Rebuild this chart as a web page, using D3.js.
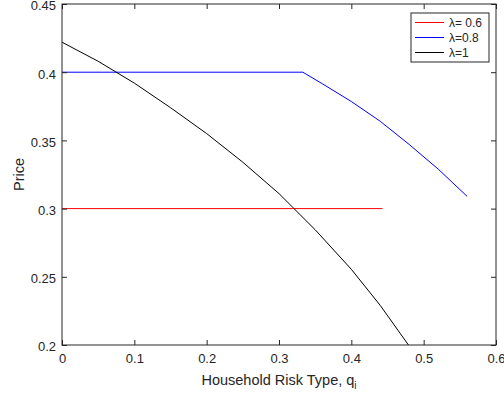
<!DOCTYPE html>
<html>
<head>
<meta charset="utf-8">
<script src="https://cdn.jsdelivr.net/npm/d3@7"></script>
<style>
  body { margin: 0; background: #fff; }
  text { font-family: "Liberation Sans", Arial, sans-serif; fill: #262626; }
</style>
</head>
<body>
<div id="chart"></div>
<script>
// series values
const redX = [0, 0.443];
const redY = [0.3, 0.3];

const blueX = [0, 0.333, 0.36, 0.4, 0.44, 0.48, 0.52, 0.56];
const blueY = [0.4, 0.4, 0.3915, 0.3785, 0.364, 0.347, 0.329, 0.309];

const blackX = [0, 0.05, 0.1, 0.15, 0.2, 0.25, 0.3, 0.35, 0.4, 0.44, 0.479];
const blackY = [0.422, 0.408, 0.392, 0.374, 0.355, 0.334, 0.311, 0.2845, 0.2555, 0.229, 0.2];

const labels = ['\u03bb= 0.6', '\u03bb=0.8', '\u03bb=1'];
const colors = ['#ff0000', '#0000ff', '#000000'];

const xTicks = [0, 0.1, 0.2, 0.3, 0.4, 0.5, 0.6];
const yTicks = [0.2, 0.25, 0.3, 0.35, 0.4, 0.45];

const config = {
  containerWidth: 504,
  containerHeight: 398,
  margin: {top: 4, right: 8, bottom: 53, left: 62}
};
const width = config.containerWidth - config.margin.left - config.margin.right;
const height = config.containerHeight - config.margin.top - config.margin.bottom;

const svg = d3.select('#chart').append('svg')
    .attr('width', config.containerWidth)
    .attr('height', config.containerHeight);

const chart = svg.append('g')
    .attr('transform', `translate(${config.margin.left},${config.margin.top})`);

const xScale = d3.scaleLinear().domain([0, 0.6]).range([0, width]);
const yScale = d3.scaleLinear().domain([0.2, 0.45]).range([height, 0]);

// clip lines to the axes box
chart.append('clipPath').attr('id', 'clip')
  .append('rect').attr('width', width).attr('height', height);

const series = [
  {x: redX, y: redY, color: colors[0], label: labels[0]},
  {x: blueX, y: blueY, color: colors[1], label: labels[1]},
  {x: blackX, y: blackY, color: colors[2], label: labels[2]}
];

const line = d3.line()
    .x(d => xScale(d[0]))
    .y(d => yScale(d[1]));

chart.append('g').attr('clip-path', 'url(#clip)')
  .selectAll('.series')
    .data(series)
  .join('path')
    .attr('class', 'series')
    .attr('fill', 'none')
    .attr('stroke', d => d.color)
    .attr('stroke-width', 1)
    .attr('d', d => line(d.x.map((v, i) => [v, d.y[i]])));

// axes, ticks pointing inward on all four sides (matlab box)
const axisColor = '#262626';
const tickLen = 5;

const xAxis = d3.axisBottom(xScale).tickValues(xTicks).tickSize(-tickLen).tickPadding(9)
    .tickFormat(d3.format('~g'));
const yAxis = d3.axisLeft(yScale).tickValues(yTicks).tickSize(-tickLen).tickPadding(6)
    .tickFormat(d3.format('~g'));

const xAxisG = chart.append('g')
    .attr('transform', `translate(0,${height})`)
    .call(xAxis);
const yAxisG = chart.append('g').call(yAxis);
const xTopG = chart.append('g')
    .call(d3.axisTop(xScale).tickValues(xTicks).tickSize(-tickLen).tickFormat(''));
const yRightG = chart.append('g')
    .attr('transform', `translate(${width},0)`)
    .call(d3.axisRight(yScale).tickValues(yTicks).tickSize(-tickLen).tickFormat(''));

[xAxisG, yAxisG, xTopG, yRightG].forEach(g => {
  g.select('.domain').attr('stroke', axisColor).attr('d', null);
  g.selectAll('.tick line').attr('stroke', axisColor);
  g.selectAll('.tick text')
      .style('font-family', '"Liberation Sans", Arial, sans-serif')
      .style('font-size', '13px')
      .attr('fill', axisColor);
});
yAxisG.selectAll('.tick text').attr('dy', '0.46em');

chart.append('rect')
    .attr('width', width)
    .attr('height', height)
    .attr('fill', 'none')
    .attr('stroke', axisColor)
    .attr('stroke-width', 1);

// axis titles
const xTitle = svg.append('text')
    .attr('x', config.margin.left + width / 2)
    .attr('y', 385)
    .attr('text-anchor', 'middle')
    .style('font-size', '14.5px')
    .text('Household Risk Type, q');
xTitle.append('tspan')
    .attr('dy', 4)
    .style('font-size', '10px')
    .text('i');

svg.append('text')
    .attr('transform', `translate(24,${config.margin.top + height / 2}) rotate(-90)`)
    .attr('text-anchor', 'middle')
    .style('font-size', '14.5px')
    .text('Price');

// legend
const legend = svg.append('g').attr('transform', 'translate(411,13)');
legend.append('rect')
    .attr('width', 78)
    .attr('height', 49)
    .attr('fill', '#fff')
    .attr('stroke', axisColor)
    .attr('stroke-width', 1);

const rows = legend.selectAll('.row')
    .data(series)
  .join('g')
    .attr('class', 'row')
    .attr('transform', (d, i) => `translate(0,${9.5 + i * 15})`);

rows.append('line')
    .attr('x1', 4).attr('x2', 33)
    .attr('stroke', d => d.color)
    .attr('stroke-width', 1);

rows.append('text')
    .attr('x', 38)
    .attr('dy', '0.35em')
    .style('font-size', '12px')
    .text(d => d.label);
</script>
</body>
</html>
